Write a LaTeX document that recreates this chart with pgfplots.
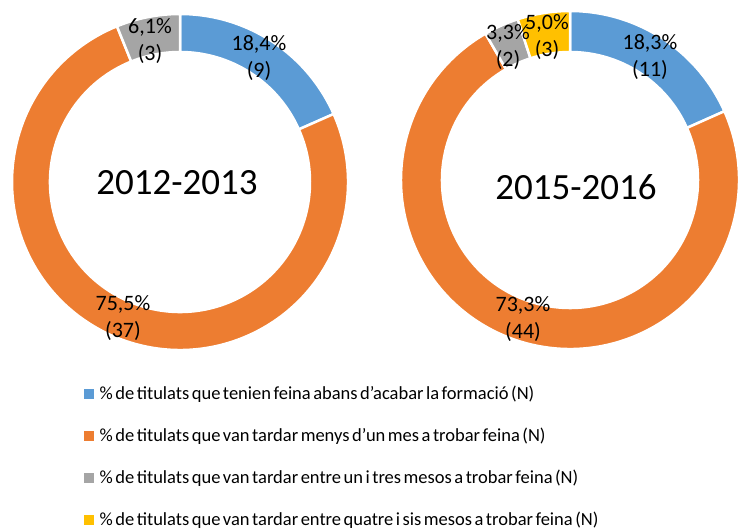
\documentclass[border=0pt]{standalone}
\usepackage{pgfplots}
\pgfplotsset{compat=1.18}
\usepackage{pgfplotstable}
\usepackage{graphicx}
\usepackage{fontspec}
\setmainfont{Carlito}[WordSpace=0.6]

\definecolor{c0}{HTML}{5B9BD5}
\definecolor{c1}{HTML}{ED7D31}
\definecolor{c2}{HTML}{A5A5A5}
\definecolor{c3}{HTML}{FFC000}

% 2012-2013: count, percent
\pgfplotstableread{
n pct
9 18.4
37 75.5
3 6.1
}\tabA
% 2015-2016
\pgfplotstableread{
n pct
11 18.3
44 73.3
2 3.3
3 5.0
}\tabB

\newcommand\donut[5]{%
  \pgfplotstablegetrowsof{#1}%
  \pgfmathtruncatemacro\last{\pgfplotsretval-1}%
  \def\tot{0}%
  \pgfplotsforeachungrouped \i in {0,...,\last}{%
    \pgfplotstablegetelem{\i}{n}\of{#1}%
    \pgfmathsetmacro\tot{\tot+\pgfplotsretval}}%
  \def\cum{0}%
  \pgfplotsforeachungrouped \i in {0,...,\last}{%
    \pgfplotstablegetelem{\i}{n}\of{#1}%
    \pgfmathsetmacro\aA{90-(\cum/\tot)*360}%
    \pgfmathsetmacro\cum{\cum+\pgfplotsretval}%
    \pgfmathsetmacro\aB{90-(\cum/\tot)*360}%
    \edef\temp{\noexpand\fill[c\i, draw=white, line width=2.5pt]
      ({#2+#4*cos(\aA)},{#3+#4*sin(\aA)})
      arc[start angle=\aA, end angle=\aB, radius=#4pt]
      -- ({#2+#5*cos(\aB)},{#3+#5*sin(\aB)})
      arc[start angle=\aB, end angle=\aA, radius=#5pt] -- cycle;}%
    \temp}}

\begin{document}
\begin{tikzpicture}
\begin{axis}[
  name=ax,
  x=1pt, y=1pt,
  xmin=0, xmax=750, ymin=0, ymax=530,
  hide axis, clip=false,
  legend style={draw=none, fill=none,
    at={(0.108,0.279)}, anchor=north west,
    font=\fontsize{18.5}{20}\selectfont,
    legend cell align=left, row sep=23pt,
    /tikz/every odd column/.append style={column sep=4pt}},
  legend cell align=left,
]
\path (0,0) coordinate (bbA) rectangle (750,530) coordinate (bbB);
\donut{\tabA}{180}{348}{168}{130}
\donut{\tabB}{570}{350}{169}{128}

\node[font=\fontsize{37}{40}\selectfont] at (177,347) {2012-2013};
\node[font=\fontsize{37}{40}\selectfont] at (576,343) {2015-2016};

\tikzset{lab/.style={font=\fontsize{22}{27}\selectfont, align=center, inner sep=0pt}}
\node[lab] at (259,472) {18,4\%\\(9)};
\node[lab] at (150,489) {6,1\%\\(3)};
\node[lab] at (123,212) {75,5\%\\(37)};

\node[lab] at (650,473) {18,3\%\\(11)};
\node[lab] at (508,483) {3,3\%\\(2)};
\node[lab] at (547,493) {5,0\%\\(3)};
\node[lab] at (523,211) {73,3\%\\(44)};

\addlegendimage{legend image code/.code={\fill[c0] (0pt,-4.5pt) rectangle (9pt,4.5pt);}}
\addlegendentry{\% de titulats que tenien feina abans d'acabar la formació (N)}
\addlegendimage{legend image code/.code={\fill[c1] (0pt,-4.5pt) rectangle (9pt,4.5pt);}}
\addlegendentry{\% de titulats que van tardar menys d'un mes a trobar feina (N)}
\addlegendimage{legend image code/.code={\fill[c2] (0pt,-4.5pt) rectangle (9pt,4.5pt);}}
\addlegendentry{\% de titulats que van tardar entre un i tres mesos a trobar feina (N)}
\addlegendimage{legend image code/.code={\fill[c3] (0pt,-4.5pt) rectangle (9pt,4.5pt);}}
\addlegendentry{\% de titulats que van tardar entre quatre i sis mesos a trobar feina (N)}
\end{axis}
\pgfresetboundingbox
\path[use as bounding box] (bbA) rectangle (bbB);
\end{tikzpicture}
\end{document}
